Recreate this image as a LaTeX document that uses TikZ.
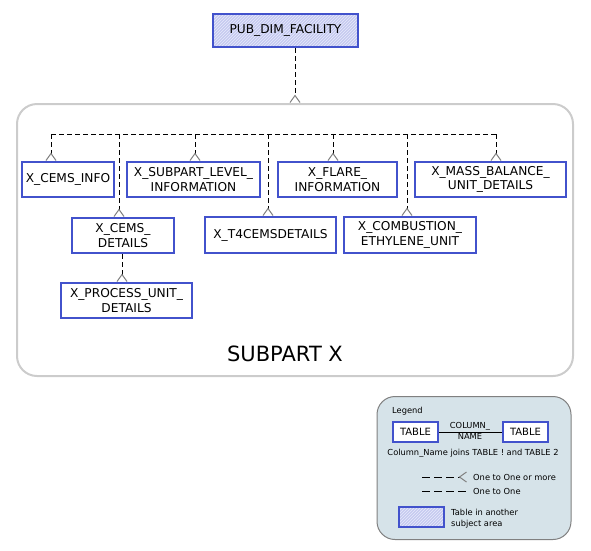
\documentclass[tikz,border=0pt]{standalone}
\usepackage{fontspec}
\setmainfont{DejaVu Sans}
\usetikzlibrary{arrows.meta, patterns, positioning}
\definecolor{entblue}{RGB}{66,82,204}
\definecolor{hatchfill}{RGB}{198,202,240}
\definecolor{hatchline}{RGB}{232,234,252}
\definecolor{legendbg}{RGB}{214,227,233}
\definecolor{areagray}{RGB}{204,204,204}
\tikzset{
	entity/.style={draw=entblue, rectangle, line width=2pt, fill=white, align=center, inner sep=0pt, font=\fontsize{12.2}{14.7}\selectfont},
	foreign/.style={entity, preaction={fill=hatchfill}, pattern=north east lines, pattern color=hatchline},
	% dashed relation lines
	rel/.style={dash pattern=on 5pt off 3pt, line width=1pt},
	legdash/.style={dash pattern=on 8pt off 4pt, line width=1pt},
	crow/.tip={Straight Barb[reversed, length=7pt, width=10pt, color=gray, line width=1pt]},
	area/.style={draw=areagray, rounded corners=20pt, line width=2pt},
	legendbox/.style={draw=gray, fill=legendbg, rounded corners=18pt, line width=1pt},
	legtext/.style={inner sep=1pt, font=\fontsize{8.3}{11}\selectfont},
}

\begin{document}
\begin{tikzpicture}[x=1pt, y=-1pt]
	\useasboundingbox (0,0) rectangle (591,550);
	
	% subject area
	\node (area) [area, minimum width=556pt, minimum height=272pt] at (295,240) {};
	\node (areaname) [font=\fontsize{21}{25}\selectfont] at (285,354) {SUBPART X};
	
	\node (fac) [foreign, minimum width=145pt, minimum height=33pt] at (285.5,30.5) {PUB\_DIM\_FACILITY};
	
	\node (cemsinfo) [entity, minimum width=92pt, minimum height=35pt] at (68,179.5) {X\_CEMS\_INFO};
	\node (subpartlvl) [entity, minimum width=133pt, minimum height=35pt] at (193.5,179.5) {X\_SUBPART\_LEVEL\_\\INFORMATION};
	\node (flare) [entity, minimum width=119pt, minimum height=35pt] at (337.5,179.5) {X\_FLARE\_\\INFORMATION};
	\node (massbal) [entity, minimum width=151pt, minimum height=35pt] at (490.5,179.5) {X\_MASS\_BALANCE\_\\UNIT\_DETAILS};
	
	\node (cemsdet) [entity, minimum width=102pt, minimum height=35pt] at (123,235.5) {X\_CEMS\_\\DETAILS};
	\node (t4cems) [entity, minimum width=131pt, minimum height=36pt] at (270.5,235) {X\_T4CEMSDETAILS};
	\node (combust) [entity, minimum width=132pt, minimum height=36pt] at (410,235) {X\_COMBUSTION\_\\ETHYLENE\_UNIT};
	
	\node (process) [entity, minimum width=131pt, minimum height=35pt] at (126.5,300.5) {X\_PROCESS\_UNIT\_\\DETAILS};
	
	% facility to subject area
	\coordinate (top) at (295,0);
	\draw[rel, -crow] (top |- fac.south) -- (top |- area.north);
	
	% bus inside the area
	\coordinate (d1) at (51,134);
	\coordinate (d2) at (119,134);
	\coordinate (d3) at (195,134);
	\coordinate (d4) at (268,134);
	\coordinate (d5) at (333,134);
	\coordinate (d6) at (407,134);
	\coordinate (d7) at (496,134);
	\draw[rel] (d1) -- (d7);
	\foreach \d/\n in {d1/cemsinfo, d2/cemsdet, d3/subpartlvl, d4/t4cems, d5/flare, d6/combust, d7/massbal}
		\draw[rel, -crow] (\d) -- (\d |- \n.north);
	
	\draw[rel, -crow] ([xshift=-1pt]cemsdet.south) -- ([xshift=-1pt]cemsdet.south |- process.north);
	
	% legend
	\node (legend) [legendbox, minimum width=194pt, minimum height=143pt] at (474,468) {};
	\node (legtitle) [legtext, anchor=west] at (391,411) {Legend};
	\node (tbl1) [entity, minimum width=45pt, minimum height=20pt, font=\fontsize{10}{12}\selectfont] at (415.5,432) {TABLE};
	\node (tbl2) [entity, minimum width=45pt, minimum height=20pt, font=\fontsize{10}{12}\selectfont] at (525.5,432) {TABLE};
	\draw[line width=1pt] (tbl1) -- (tbl2);
	\node (colname) [legtext, anchor=south] at (470,432) {COLUMN\_};
	\node (colname2) [legtext, anchor=north] at (470,432) {NAME};
	\node (joins) [legtext] at (473,453) {Column\_Name joins TABLE ! and TABLE 2};
	
	\coordinate (many1) at (422,477);
	\coordinate (many2) at (467,477);
	\draw[legdash, -crow] (many1) -- (many2);
	\node (manytxt) [legtext, anchor=west] at (472,477) {One to One or more};
	\coordinate (one1) at (422,491);
	\coordinate (one2) at (467,491);
	\draw[legdash] (one1) -- (one2);
	\node (onetxt) [legtext, anchor=west] at (472,491) {One to One};
	
	\node (hatch) [foreign, minimum width=45pt, minimum height=20pt] at (421.5,517) {};
	\node (hatchtxt) [legtext, anchor=west, align=left] at (450,519) {Table in another\\subject area};
	
\end{tikzpicture}
\end{document}
